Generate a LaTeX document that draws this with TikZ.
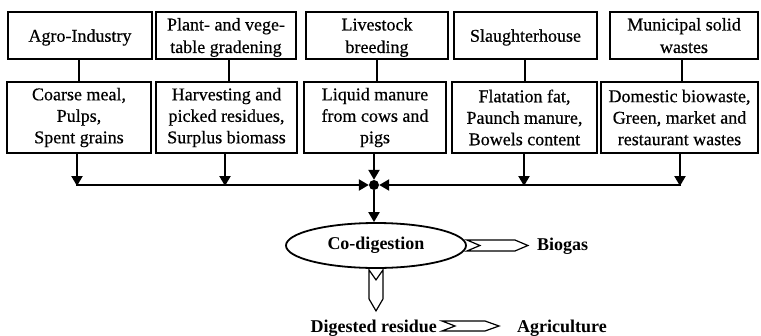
\documentclass[tikz,border=0pt]{standalone}
\usepackage{fontspec}
\setmainfont{Liberation Serif}
\newfontfamily\boxfont{Liberation Serif}[FakeBold=0.5]
\usetikzlibrary{arrows.meta,shapes.geometric}
\begin{document}
\begin{tikzpicture}[x=1pt,y=-1pt,
  box/.style={draw,line width=1.6pt,inner sep=0pt,align=center,font=\boxfont\fontsize{18}{21.5}\selectfont},
  topbox/.style={box,minimum height=47pt,text depth=0pt,font=\boxfont\fontsize{18}{22.5}\selectfont},
  botbox/.style={box,minimum height=71pt},
  conn/.style={line width=2.2pt},
  arr/.style={line width=2.2pt,-{Triangle[length=10pt,width=11pt]}},
  blk/.style={draw,line width=1.2pt,fill=white,line join=miter},
  lbl/.style={font=\bfseries\fontsize{18}{20}\selectfont,inner sep=0pt}]
\useasboundingbox (0,0) rectangle (761,335);
% top boxes
\node[topbox,minimum width=144pt] (t1) at (80,35.5) {Agro-Industry};
\node[topbox,minimum width=140pt] (t2) at (226,35.5) {Plant- and vege-\\table gradening};
\node[topbox,minimum width=142pt] (t3) at (377,35.5) {Livestock\\breeding};
\node[topbox,minimum width=143pt] (t4) at (525.5,35.5) {Slaughterhouse};
\node[topbox,minimum width=148pt] (t5) at (684,35.5) {Municipal solid\\wastes};
% bottom boxes
\node[botbox,minimum width=144pt] (b1) at (79,117.5) {Coarse meal,\\Pulps,\\Spent grains};
\node[botbox,minimum width=141pt] (b2) at (226.5,117.5) {Harvesting and\\picked residues,\\Surplus biomass};
\node[botbox,minimum width=142pt] (b3) at (375,117.5) {Liquid manure\\from cows and\\pigs};
\node[botbox,minimum width=145pt] (b4) at (524.5,117.5) {Flatation fat,\\Paunch manure,\\Bowels content};
\node[botbox,minimum width=157pt] (b5) at (679.5,117.5) {Domestic biowaste,\\Green, market and\\restaurant wastes};
% top-to-bottom links
\coordinate (v1) at (79,0);
\coordinate (v2) at (229,0);
\coordinate (v3) at (377,0);
\coordinate (v4) at (525,0);
\coordinate (v5) at (682,0);
\foreach \i in {1,...,5}{
  \draw[conn] (t\i.south -| v\i) -- (b\i.north -| v\i);
}
% collector
\node[circle,fill=black,inner sep=0pt,minimum size=10pt] (dot) at (374,185) {};
\coordinate (h1) at (77,185);
\coordinate (h2) at (225,185);
\coordinate (h4) at (524,185);
\coordinate (h5) at (680,185);
\draw[arr] (b1.south -| h1) -- ([yshift=-1pt]h1);
\draw[arr] (b2.south -| h2) -- ([yshift=-1pt]h2);
\draw[arr] (b4.south -| h4) -- ([yshift=-1pt]h4);
\draw[arr] (b5.south -| h5) -- ([yshift=-1pt]h5);
\draw[arr] (b3.south -| dot) -- (dot);
\draw[arr] ([xshift=-1.1pt]h1) -- (dot);
\draw[arr] ([xshift=1.1pt]h5) -- (dot);
% digester
\node[draw,ellipse,line width=1.8pt,minimum width=180pt,minimum height=45pt,inner sep=0pt,
      font=\bfseries\fontsize{18}{20}\selectfont] (cod) at (376,245.5) {Co-digestion};
\draw[arr] (dot) -- (dot |- cod.north);
% biogas
\node[lbl,anchor=base west] (bio) at (537,250) {Biogas};
\draw[blk,shift={(cod.east)}] (0,-5.5) -- (48,-5.5) -- (61,0) -- (48,5.5) -- (0,5.5) -- (13,0) -- cycle;
% digested residue
\draw[blk,shift={(cod.south)}] (-7,1) -- (0,11) -- (7,1) -- (7,30) -- (0,42) -- (-7,30) -- cycle;
\node[lbl,anchor=base east] (res) at (437,332) {Digested residue};
\node[lbl,anchor=base west] (agr) at (517,332) {Agriculture};
\draw[blk,shift={(res.base east)}] (5,-11) -- (48,-11) -- (62,-6) -- (48,-1) -- (5,-1) -- (18,-6) -- cycle;
\end{tikzpicture}
\end{document}
